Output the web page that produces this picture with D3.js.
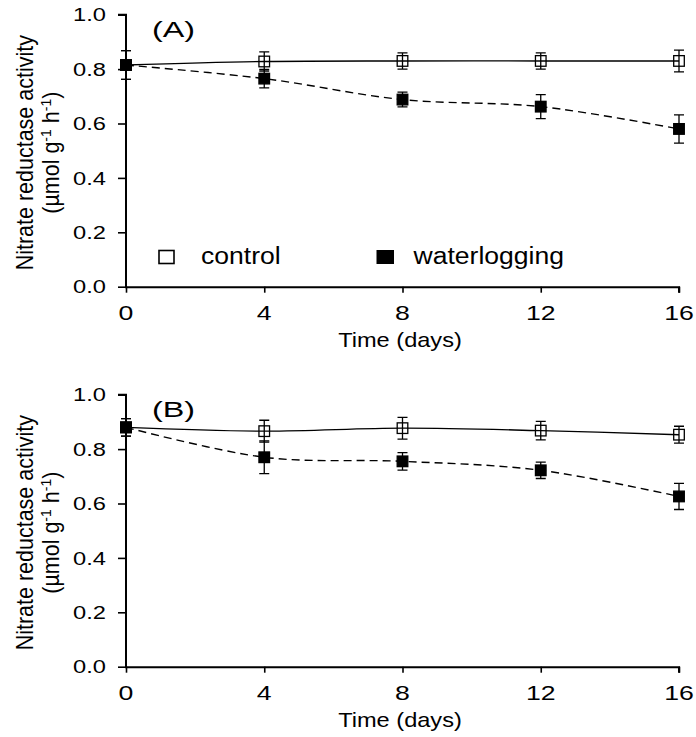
<!DOCTYPE html>
<html>
<head>
<meta charset="utf-8">
<script src="https://cdn.jsdelivr.net/npm/d3@7"></script>
<style>
  html, body { margin: 0; padding: 0; background: #fff; }
  svg { display: block; font-family: "Liberation Sans", Arial, sans-serif; }
</style>
</head>
<body>
<svg id="chart" width="696" height="737"></svg>
<script>
// Sampling days
const days = [0, 4, 8, 12, 16];
const xTicks = [0, 4, 8, 12, 16];
const yTicks = [0, 0.2, 0.4, 0.6, 0.8, 1.0];

// Panel A: means and standard errors
const controlA = [0.815, 0.828, 0.830, 0.830, 0.830];
const controlAErr = [0.053, 0.035, 0.030, 0.030, 0.040];
const waterA = [0.815, 0.765, 0.688, 0.662, 0.580];
const waterAErr = [0.053, 0.034, 0.027, 0.044, 0.052];

// Panel B: means and standard errors
const controlB = [0.880, 0.866, 0.877, 0.868, 0.853];
const controlBErr = [0.032, 0.040, 0.040, 0.034, 0.031];
const waterB = [0.880, 0.770, 0.755, 0.722, 0.626];
const waterBErr = [0.032, 0.060, 0.032, 0.030, 0.048];

const svg = d3.select("#chart");

// Text helper: places a label with an optional horizontal stretch
function label(g, x, y, str, size, sx, anchor) {
  return g.append("text")
    .attr("transform", `translate(${x},${y}) scale(${sx},1)`)
    .attr("text-anchor", anchor || "start")
    .attr("font-size", size)
    .attr("fill", "#000")
    .text(str);
}

function panel(cfg) {
  const g = svg.append("g");
  const x = d3.scaleLinear().domain([0, 16]).range([126, 679]);
  const y = d3.scaleLinear().domain([0, 1]).range([cfg.bottom, cfg.bottom - 272]);

  // Axes
  const xAxis = d3.axisBottom(x).tickValues(xTicks).tickSize(6).tickFormat("");
  const yAxis = d3.axisLeft(y).tickValues(yTicks).tickSize(8).tickFormat("");
  const gx = g.append("g").attr("transform", `translate(0,${y(0)})`).call(xAxis);
  const gy = g.append("g").attr("transform", `translate(${x(0)},0)`).call(yAxis);
  [gx, gy].forEach(a => {
    a.select(".domain").attr("stroke", "#000").attr("stroke-width", 2);
    a.selectAll(".tick line").attr("stroke", "#000").attr("stroke-width", 1.6);
  });
  // square off the axis corner
  gx.select(".domain").attr("d", `M${x(0) - 1},0.5H${x(16)}V6`);
  gy.select(".domain").attr("d", `M-8,${y(1)}H0V${y(0) + 1}`);

  // Tick labels
  yTicks.forEach(v => label(g, 106, y(v) + 6.6, v.toFixed(1), 18.5, 1.28, "end"));
  xTicks.forEach(v => label(g, x(v), y(0) + 33, String(v), 20.5, 1.3, "middle"));

  // Axis titles
  label(g, 400, y(0) + 60.5, "Time (days)", 20, 1.18, "middle");
  const yt = g.append("g")
    .attr("transform", `translate(33,${y(0) - 134}) rotate(-90) scale(1,1.1)`);
  yt.append("text").attr("text-anchor", "middle").attr("font-size", 21.5)
    .text("Nitrate reductase activity");
  const t2 = yt.append("text").attr("text-anchor", "middle").attr("font-size", 21.5)
    .attr("y", 24);
  t2.append("tspan").text("(µmol g");
  t2.append("tspan").attr("font-size", 14).attr("dy", -8).text("-1");
  t2.append("tspan").attr("dy", 8).text(" h");
  t2.append("tspan").attr("font-size", 14).attr("dy", -8).text("-1");
  t2.append("tspan").attr("dy", 8).text(")");

  // Panel letter
  label(g, 152, y(1) + 22, cfg.tag, 22.3, 1.45, "start");

  const line = d3.line().x((d, i) => x(days[i])).y(d => y(d)).curve(d3.curveCardinal);

  function series(vals, errs, dashed, filled) {
    const s = g.append("g");
    s.append("path").attr("d", line(vals)).attr("fill", "none")
      .attr("stroke", "#000").attr("stroke-width", 1.4)
      .attr("stroke-dasharray", dashed ? "8,5" : null);
    vals.forEach((v, i) => {
      const cx = x(days[i]);
      const lo = y(v - errs[i]), hi = y(v + errs[i]);
      s.append("path")
        .attr("d", `M${cx},${lo}V${hi}M${cx - 5},${lo}H${cx + 5}M${cx - 5},${hi}H${cx + 5}`)
        .attr("stroke", "#000").attr("stroke-width", 1.3).attr("fill", "none");
      s.append("rect")
        .attr("x", cx - 5.3).attr("y", y(v) - 5.3).attr("width", 10.6).attr("height", 10.6)
        .attr("fill", filled ? "#000" : "none")
        .attr("stroke", "#000").attr("stroke-width", 1.3);
    });
  }
  series(cfg.control, cfg.controlErr, false, false);
  series(cfg.water, cfg.waterErr, true, true);

  if (cfg.legend) {
    const lg = g.append("g");
    lg.append("rect").attr("x", 159).attr("y", 250.5).attr("width", 15).attr("height", 13)
      .attr("fill", "none").attr("stroke", "#000").attr("stroke-width", 1.6);
    label(lg, 201, 264, "control", 23.5, 1.13, "start");
    lg.append("rect").attr("x", 376.5).attr("y", 250).attr("width", 17.5).attr("height", 14)
      .attr("fill", "#000");
    label(lg, 413.5, 264, "waterlogging", 23.5, 1.13, "start");
  }
}

panel({ bottom: 286.7, tag: "(A)", control: controlA, controlErr: controlAErr,
        water: waterA, waterErr: waterAErr, legend: true });
panel({ bottom: 666.7, tag: "(B)", control: controlB, controlErr: controlBErr,
        water: waterB, waterErr: waterBErr, legend: false });
</script>
</body>
</html>
